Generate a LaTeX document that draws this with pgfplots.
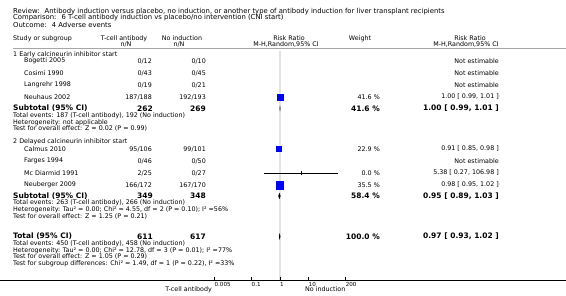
\documentclass[border=0pt]{standalone}
\usepackage{fontspec}
\setmainfont{DejaVu Sans}
\usepackage{pgfplots}
\pgfplotsset{compat=1.18}
\newcommand\fn{\fontsize{6.35}{7}\selectfont}
\newcommand\fh{\fontsize{6.85}{7.5}\selectfont}
\newcommand\fb{\fontsize{7.5}{8}\selectfont\bfseries}
\newcommand\ft{\fontsize{5.6}{6}\selectfont}
\begin{document}
\begin{tikzpicture}
\path[use as bounding box] (0,0) rectangle (566pt,-296pt);
\begin{axis}[at={(0,0)}, anchor=north west, scale only axis,
  width=566pt, height=296pt, xmode=log,
  xmin=1.4976e-10, xmax=1.0839e10, ymin=0, ymax=296, y dir=reverse,
  hide axis, clip=false]
% null line
\addplot[draw=gray!22, line width=1.6pt] coordinates {(1,51) (1,280)};
% study squares
\addplot[only marks, mark=square*, mark size=2.9pt, mark options={fill=blue, draw=blue}] coordinates {(1.00,97)};
\addplot[only marks, mark=square*, mark size=2.5pt, mark options={fill=blue, draw=blue}] coordinates {(0.91,149)};
\addplot[only marks, mark=square*, mark size=3.7pt, mark options={fill=blue, draw=blue}] coordinates {(0.98,185)};
% confidence intervals
\addplot[black, line width=0.5pt] coordinates {(0.99,97) (1.01,97)};
\addplot[black, line width=0.5pt] coordinates {(0.85,149) (0.98,149)};
\addplot[black, line width=0.5pt] coordinates {(0.95,185) (1.02,185)};
\addplot[black, line width=0.5pt] coordinates {(0.27,173) (106.98,173)};
\addplot[only marks, mark=|, mark size=1.6pt, mark options={line width=0.5pt}] coordinates {(5.38,173)};
% diamonds
\addplot[fill=black, draw=black, line width=0.3pt] coordinates {(0.99,108.5) (1.00,106) (1.01,108.5) (1.00,111) (0.99,108.5)};
\addplot[fill=black, draw=black, line width=0.3pt] coordinates {(0.89,196) (0.95,193.3) (1.03,196) (0.95,198.7) (0.89,196)};
\addplot[fill=black, draw=black, line width=0.3pt] coordinates {(0.93,236.5) (0.97,233.8) (1.02,236.5) (0.97,239.2) (0.93,236.5)};
% axis line and ticks
\draw[black, line width=0.5pt] (axis cs:1.4976e-10,280) -- (axis cs:1.0839e10,280);
\foreach \v/\l in {0.005/0.005, 0.1/0.1, 1/1, 10/10, 200/200} {
  \edef\temp{\noexpand\draw[black, line width=0.5pt] (axis cs:\v,280) -- (axis cs:\v,277);
  \noexpand\node[anchor=west, inner sep=0pt, font=\noexpand\ft] at (axis cs:\v,284.5) {\l};}
  \temp
}
\end{axis}
\begin{scope}[x=1pt, y=-1pt, every node/.style={inner sep=0pt}, font=\fn]
% titles
\node[anchor=west, font=\fh] at (13,11.5) {Review:~ Antibody induction versus placebo, no induction, or another type of antibody induction for liver transplant recipients};
\node[anchor=west, font=\fh] at (13,18) {Comparison:~ 6 T-cell antibody induction vs placebo/no intervention (CNI start)};
\node[anchor=west, font=\fh] at (13,24.5) {Outcome:~ 4 Adverse events};
% header
\node[anchor=west] at (13,38.3) {Study or subgroup};
\node at (124,38.3) {T-cell antibody};
\node at (126,44) {n/N};
\node at (182,38.3) {No induction};
\node at (179,44) {n/N};
\node at (289,38.3) {Risk Ratio};
\node at (286,44) {M-H,Random,95\% CI};
\node at (360,38.3) {Weight};
\node at (470,38.3) {Risk Ratio};
\node at (466,44) {M-H,Random,95\% CI};
\draw[gray!70, line width=1.5pt] (13,48.6) -- (566,48.6);
% group 1
\node[anchor=west] at (13,54.5) {1 Early calcineurin inhibitor start};
\node[anchor=west] at (24,61) {Bogetti 2005};
\node[anchor=east] at (152,61) {0/12};
\node[anchor=east] at (206,61) {0/10};
\node[anchor=east] at (499,61) {Not estimable};
\node[anchor=west] at (24,73) {Cosimi 1990};
\node[anchor=east] at (152,73) {0/43};
\node[anchor=east] at (206,73) {0/45};
\node[anchor=east] at (499,73) {Not estimable};
\node[anchor=west] at (24,85) {Langrehr 1998};
\node[anchor=east] at (152,85) {0/19};
\node[anchor=east] at (206,85) {0/21};
\node[anchor=east] at (499,85) {Not estimable};
\node[anchor=west] at (24,97) {Neuhaus 2002};
\node[anchor=east] at (152,97) {187/188};
\node[anchor=east] at (206,97) {192/193};
\node[anchor=east] at (380,97) {41.6 \%};
\node[anchor=east] at (499,97) {1.00 [ 0.99, 1.01 ]};
\node[anchor=west, font=\fb] at (13,108.5) {Subtotal (95\% CI)};
\node[anchor=east, font=\fb] at (153,108.5) {262};
\node[anchor=east, font=\fb] at (206,108.5) {269};
\node[anchor=east, font=\fb] at (380,108.5) {41.6 \%};
\node[anchor=east, font=\fb] at (499,108.5) {1.00 [ 0.99, 1.01 ]};
\node[anchor=west] at (13,116) {Total events: 187 (T-cell antibody), 192 (No induction)};
\node[anchor=west] at (13,122.7) {Heterogeneity: not applicable};
\node[anchor=west] at (13,128.7) {Test for overall effect: Z = 0.02 (P = 0.99)};
% group 2
\node[anchor=west] at (13,142) {2 Delayed calcineurin inhibitor start};
\node[anchor=west] at (24,149) {Calmus 2010};
\node[anchor=east] at (152,149) {95/106};
\node[anchor=east] at (206,149) {99/101};
\node[anchor=east] at (380,149) {22.9 \%};
\node[anchor=east] at (499,149) {0.91 [ 0.85, 0.98 ]};
\node[anchor=west] at (24,161) {Farges 1994};
\node[anchor=east] at (152,161) {0/46};
\node[anchor=east] at (206,161) {0/50};
\node[anchor=east] at (499,161) {Not estimable};
\node[anchor=west] at (24,173) {Mc Diarmid 1991};
\node[anchor=east] at (152,173) {2/25};
\node[anchor=east] at (206,173) {0/27};
\node[anchor=east] at (380,173) {0.0 \%};
\node[anchor=east] at (499,173) {5.38 [ 0.27, 106.98 ]};
\node[anchor=west] at (24,185) {Neuberger 2009};
\node[anchor=east] at (152,185) {166/172};
\node[anchor=east] at (206,185) {167/170};
\node[anchor=east] at (380,185) {35.5 \%};
\node[anchor=east] at (499,185) {0.98 [ 0.95, 1.02 ]};
\node[anchor=west, font=\fb] at (13,196) {Subtotal (95\% CI)};
\node[anchor=east, font=\fb] at (153,196) {349};
\node[anchor=east, font=\fb] at (206,196) {348};
\node[anchor=east, font=\fb] at (380,196) {58.4 \%};
\node[anchor=east, font=\fb] at (499,196) {0.95 [ 0.89, 1.03 ]};
\node[anchor=west] at (13,203) {Total events: 263 (T-cell antibody), 266 (No induction)};
\node[anchor=west] at (13,210) {Heterogeneity: Tau² = 0.00; Chi² = 4.55, df = 2 (P = 0.10); I² =56\%};
\node[anchor=west] at (13,216.7) {Test for overall effect: Z = 1.25 (P = 0.21)};
% total
\node[anchor=west, font=\fb] at (13,236.5) {Total (95\% CI)};
\node[anchor=east, font=\fb] at (153,236.5) {611};
\node[anchor=east, font=\fb] at (206,236.5) {617};
\node[anchor=east, font=\fb] at (380,236.5) {100.0 \%};
\node[anchor=east, font=\fb] at (499,236.5) {0.97 [ 0.93, 1.02 ]};
\node[anchor=west] at (13,244) {Total events: 450 (T-cell antibody), 458 (No induction)};
\node[anchor=west] at (13,250.5) {Heterogeneity: Tau² = 0.00; Chi² = 12.78, df = 3 (P = 0.01); I² =77\%};
\node[anchor=west] at (13,257) {Test for overall effect: Z = 1.05 (P = 0.29)};
\node[anchor=west] at (13,263.3) {Test for subgroup differences: Chi² = 1.49, df = 1 (P = 0.22), I² =33\%};
% axis labels
\node[anchor=east] at (212,290) {T-cell antibody};
\node[anchor=west] at (305,289) {No induction};
\end{scope}
\end{tikzpicture}
\end{document}
